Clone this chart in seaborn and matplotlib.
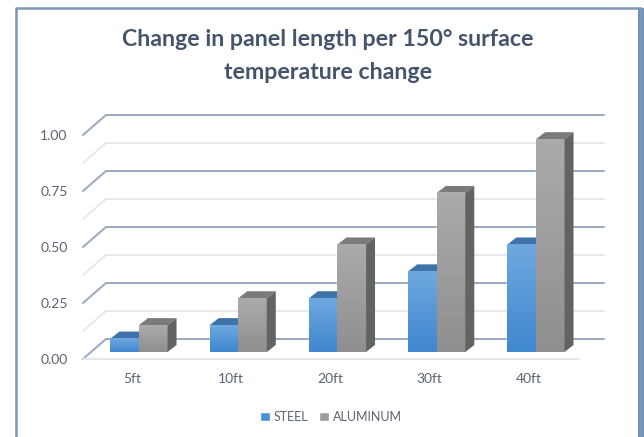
import numpy as np
import pandas as pd
import matplotlib
matplotlib.use("Agg")
import matplotlib.pyplot as plt
from matplotlib.patches import Polygon, Rectangle
from matplotlib.colors import LinearSegmentedColormap
import seaborn as sns

categories = ["5ft", "10ft", "20ft", "30ft", "40ft"]
steel = [0.06, 0.12, 0.24, 0.36, 0.48]
aluminum = [0.12, 0.24, 0.48, 0.71, 0.95]
series_names = ["STEEL", "ALUMINUM"]
y_ticks = [0.00, 0.25, 0.50, 0.75, 1.00]
grid_levels = [0, 0.125, 0.25, 0.375, 0.5, 0.625, 0.75, 0.875, 1.0]
title_text = "Change in panel length per 150° surface\ntemperature change"

W, H = 644, 437
sns.set_theme(style="white")
plt.rcParams["font.family"] = ["Lato", "DejaVu Sans"]
fig = plt.figure(figsize=(W / 100, H / 100), dpi=100, facecolor="white")

# axes occupies these pixels
L, R, T, B = 83, 604, 100, 372
ax = fig.add_axes([L / W, 1 - B / H, (R - L) / W, (B - T) / H])
PX_X, PX_Y = 99.25, 224.0          # pixels per data unit
X0, Y0 = 139.0, 352.0              # pixel position of first category / bar base
ax.patch.set_alpha(0)
df = pd.DataFrame({
    "cat": categories * 2,
    "val": steel + aluminum,
    "series": [series_names[0]] * 5 + [series_names[1]] * 5,
})
sns.barplot(data=df, x="cat", y="val", hue="series", order=categories,
            hue_order=series_names, palette=["#4f93d8", "#9d9d9d"],
            width=0.575, gap=0, saturation=1, ax=ax, zorder=5, legend=True)
xlim = ((L - X0) / PX_X, (R - X0) / PX_X)
ylim = ((Y0 - B) / PX_Y, (Y0 - T) / PX_Y)

# wall / floor geometry expressed in data units
wall_off = 13 / PX_Y            # back wall zero above bar base
front_off = -7 / PX_Y           # front floor zero below bar base
x_front_l = xlim[0]
x_back_l = (106 - X0) / PX_X
x_back_r = xlim[1]
x_front_r = (579 - X0) / PX_X
dx, dy = 9 / PX_X, 7 / PX_Y

for lv in grid_levels:
    major = abs(lv / 0.25 - round(lv / 0.25)) < 1e-6
    c = "#97a9c2" if major else "#e6e8ec"
    lw = 1.4 if major else 1.4
    ax.plot([x_front_l, x_back_l, x_back_r],
            [lv + front_off, lv + wall_off, lv + wall_off],
            color=c, lw=lw, zorder=2, solid_joinstyle="round", clip_on=False)
ax.plot([x_front_l, x_front_r], [front_off, front_off], color="#e4e6ea", lw=1.5, zorder=2)

# gradient fronts and 3-D side / top faces
cm_blue = LinearSegmentedColormap.from_list("b", ["#6fa8e0", "#3f87cf"])
cm_gray = LinearSegmentedColormap.from_list("g", ["#ababab", "#8f8f8f"])
grad = np.linspace(0, 1, 128).reshape(-1, 1)
n = len(categories)
for i, p in enumerate(ax.patches[:2 * n]):
    x, w, h = p.get_x(), p.get_width(), p.get_height()
    is_steel = i < n
    ax.imshow(grad, cmap=cm_blue if is_steel else cm_gray, aspect="auto",
              extent=(x, x + w, 0, h), zorder=6)
    ax.add_patch(Polygon([(x, h), (x + w, h), (x + w + dx, h + dy), (x + dx, h + dy)],
                         closed=True, fc="#3f72a8" if is_steel else "#7a7a7a", ec="none", zorder=5))
    if not is_steel:
        ax.add_patch(Polygon([(x + w, 0), (x + w + dx, dy), (x + w + dx, h + dy), (x + w, h)],
                             closed=True, fc="#636363", ec="none", zorder=7))
ax.set_xlim(*xlim)
ax.set_ylim(*ylim)

ax.set_xlabel("")
ax.set_ylabel("")
ax.set_xticks(np.arange(n) - 7 / PX_X, categories)
ax.set_yticks(np.array(y_ticks) + front_off, [f"{v:.2f}" for v in y_ticks])
ax.tick_params(axis="both", length=0, labelsize=10, labelcolor="#5a6472")
ax.tick_params(axis="x", pad=1)
ax.tick_params(axis="y", pad=11)
for s in ax.spines.values():
    s.set_visible(False)

ax.legend_.remove()
handles = [Rectangle((0, 0), 1, 1, fc=c) for c in ("#4a90d6", "#9d9d9d")]
fig.legend(handles, series_names, loc="center", bbox_to_anchor=(331 / W, 1 - 417 / H),
           ncol=2, frameon=False, fontsize=9, labelcolor="#5a6472",
           handlelength=0.8, handleheight=0.8, handletextpad=0.3, columnspacing=0.9)

fig.text(328 / W, 1 - 56 / H, title_text, ha="center", va="center", fontsize=16.7,
         fontweight="bold", color="#44546a", linespacing=1.68)

# slide frame
frame = "#7f97b8"
fig.add_artist(plt.Line2D([16 / W, 16 / W, 641 / W, 641 / W],
                          [0, 1 - 8 / H, 1 - 8 / H, 0], color=frame, lw=1.8))
fig.add_artist(Rectangle((638 / W, 0), 6 / W, 1 - 8 / H, transform=fig.transFigure,
                         fc="#7292b8", ec="none"))

fig.savefig("out.png", dpi=100)
